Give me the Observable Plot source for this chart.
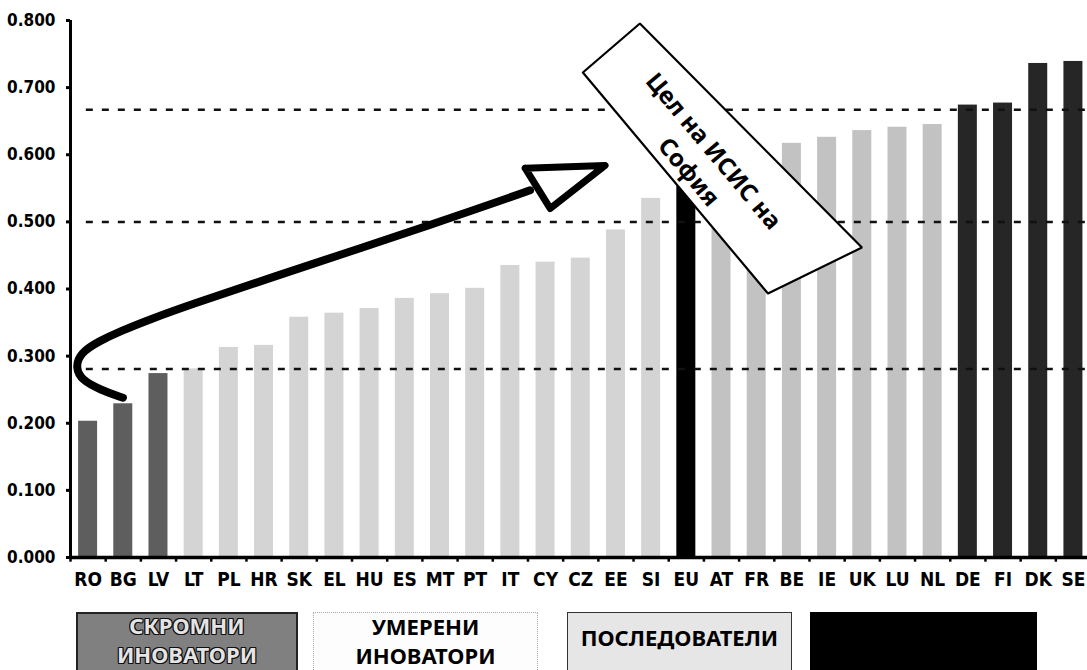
<!DOCTYPE html>
<html>
<head>
<meta charset="utf-8">
<script src="https://cdn.jsdelivr.net/npm/d3@7"></script>
<script src="https://cdn.jsdelivr.net/npm/@observablehq/plot@0.6"></script>
<style>
  html, body { margin: 0; padding: 0; background: #fff; overflow: hidden; }
  #wrap { position: relative; width: 1087px; height: 670px; }
  #legend { position: absolute; left: 0; top: 0; width: 1087px; height: 670px; pointer-events: none; }
  .lg { position: absolute; top: 612px; height: 64px; box-sizing: border-box;
        font-family: "Noto Sans", "Open Sans", sans-serif; font-weight: 700; font-size: 22px;
        text-align: center; line-height: 29px; }
  [aria-label$="tick label"] { font-family: "DejaVu Sans", sans-serif; font-stretch: condensed; }
</style>
</head>
<body>
<div id="wrap"><div id="chart"></div><div id="legend"></div></div>
<script>
// ---- data ----
const countries = ["RO","BG","LV","LT","PL","HR","SK","EL","HU","ES","MT","PT","IT","CY","CZ","EE","SI","EU","AT","FR","BE","IE","UK","LU","NL","DE","FI","DK","SE"];
const values = [0.203,0.229,0.274,0.281,0.313,0.316,0.358,0.364,0.371,0.386,0.393,0.401,0.435,0.440,0.446,0.488,0.535,0.565,0.585,0.591,0.617,0.626,0.636,0.641,0.645,0.674,0.677,0.736,0.739];
const groups = ["modest","modest","modest","moderate","moderate","moderate","moderate","moderate","moderate","moderate","moderate","moderate","moderate","moderate","moderate","moderate","moderate","eu","follower","follower","follower","follower","follower","follower","follower","leader","leader","leader","leader"];
const groupNames = ["modest","moderate","eu","follower","leader"];
const groupColors = ["#5e5e5e","#d4d4d4","#000000","#c2c2c2","#262626"];
const yTicks = [0,0.1,0.2,0.3,0.4,0.5,0.6,0.7,0.8];
const targetLines = [0.667,0.5,0.281];
const legendLabels = [["СКРОМНИ","ИНОВАТОРИ"],["УМЕРЕНИ","ИНОВАТОРИ"],["ПОСЛЕДОВАТЕЛИ"],[]];

// annotation path (bar index, value)
const arrowI = [0.99,0.34,-0.17,-0.36,-0.23,0.34,0.91,1.76,2.98,4.69,10.28,12.56];
const arrowV = [0.238,0.250,0.264,0.282,0.305,0.323,0.337,0.355,0.378,0.408,0.505,0.547];
const headI = [12.42,13.13,14.69,12.42];
const headV = [0.580,0.520,0.584,0.580];
const boxI = [14.06,15.68,21.99,19.32,14.06];
const boxV = [0.7225,0.7955,0.4618,0.3933,0.7225];
const noteText = "Цел на ИСИС на\nСофия";
const noteI = 17.47, noteV = 0.592;

// ---- build ----
const rows = countries.map((c, i) => ({i, c, v: values[i], g: groups[i]}));
const arrow = arrowI.map((x, k) => ({x, y: arrowV[k]}));
const head = headI.map((x, k) => ({x, y: headV[k]}));
const box = boxI.map((x, k) => ({x, y: boxV[k]}));
const boundaries = d3.range(countries.length + 1).map(k => k - 0.5);

const axisFont = "'DejaVu Sans', sans-serif";

const chart = Plot.plot({
  width: 1087,
  height: 600,
  marginLeft: 70,
  marginRight: 0,
  marginTop: 20,
  marginBottom: 43,
  style: {background: "#fff", overflow: "visible"},
  x: {domain: [-0.5, 28.4], label: null},
  y: {domain: [0, 0.8], label: null},
  color: {domain: groupNames, range: groupColors},
  marks: [
    Plot.rectY(rows, {x1: d => d.i - 0.27, x2: d => d.i + 0.27, y1: 0, y2: "v", fill: "g"}),
    Plot.ruleY(targetLines, {x1: -0.05, x2: 28.4, stroke: "#111", strokeWidth: 2.5, strokeDasharray: "7,9"}),
    Plot.ruleX([-0.5], {y1: 0, y2: 0.8, stroke: "#000", strokeWidth: 3}),
    Plot.ruleY([0], {x1: -0.5, x2: 28.4, stroke: "#000", strokeWidth: 3.5}),
    Plot.ruleX(boundaries, {y1: 0, y2: -0.007, stroke: "#000", strokeWidth: 2.5}),
    Plot.axisY({ticks: yTicks, tickFormat: d3.format(".3f"), tickSize: 4, tickPadding: 11, label: null,
      strokeWidth: 3, fontSize: 17, fontWeight: "bold", fontFamily: axisFont, fill: "#000"}),
    Plot.axisX({ticks: d3.range(countries.length), tickFormat: i => countries[i], tickSize: 0, tickPadding: 15, label: null,
      fontSize: 19, fontWeight: "bold", fontFamily: axisFont, fill: "#000"}),
    Plot.line(arrow, {x: "x", y: "y", curve: "basis", stroke: "#000", strokeWidth: 8, strokeLinecap: "round"}),
    Plot.line(head, {x: "x", y: "y", fill: "#fff", stroke: "#000", strokeWidth: 7, strokeLinejoin: "round"}),
    Plot.line(box, {x: "x", y: "y", fill: "#fff", stroke: "#000", strokeWidth: 2.2, strokeLinejoin: "miter"}),
    Plot.text([noteText], {x: () => noteI, y: () => noteV, text: d => d, rotate: 50, fontSize: 24,
      fontWeight: "bold", fontFamily: "'Noto Sans', 'Open Sans', sans-serif", lineHeight: 1.35, fill: "#000"})
  ]
});
document.getElementById("chart").append(chart);

// ---- legend boxes under the chart ----
const outline = "1px 1px 0 #111, -1px -1px 0 #111, 1px -1px 0 #111, -1px 1px 0 #111, 0 1px 0 #111, 0 -1px 0 #111, 1px 0 0 #111, -1px 0 0 #111";
const legendBoxes = [
  {left: 76, width: 222, bg: "#808080", border: "2px solid #222", color: "#e4e4e4", shadow: outline, pad: -3},
  {left: 313, width: 225, bg: "#fdfdfd", border: "1.5px dotted #aaa", color: "#000", shadow: "none", pad: -1},
  {left: 567, width: 225, bg: "#e6e6e6", border: "1.5px solid #333", color: "#000", shadow: "none", pad: 10},
  {left: 810, width: 227, bg: "#000", border: "1px solid #000", color: "#fff", shadow: "none", pad: 0}
];
const legend = document.getElementById("legend");
legendBoxes.forEach((b, k) => {
  const div = document.createElement("div");
  div.className = "lg";
  div.style.left = b.left + "px";
  div.style.width = b.width + "px";
  div.style.background = b.bg;
  div.style.border = b.border;
  div.style.color = b.color;
  div.style.textShadow = b.shadow;
  legendLabels[k].forEach((t, j) => {
    const s = document.createElement("div");
    s.textContent = t;
    if (j === 0) s.style.marginTop = b.pad + "px";
    div.append(s);
  });
  legend.append(div);
});
</script>
</body>
</html>
